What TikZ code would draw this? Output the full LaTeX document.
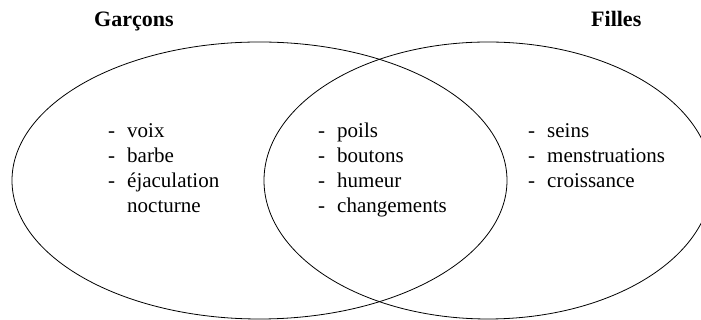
\documentclass[tikz,border=0pt]{standalone}
\usepackage{fontspec}
\setmainfont{Liberation Serif}
\usetikzlibrary{positioning, shapes.geometric}
\tikzset{
  ensemble/.style={draw, ellipse, inner sep=0pt, line width=0.8pt},
  titre/.style={inner sep=0pt, anchor=base west, font=\fontsize{22}{26}\selectfont\bfseries},
  liste/.style={inner sep=0pt, anchor=base west, font=\fontsize{21}{25}\selectfont}
}
\newcommand{\listepuces}[1]{\begin{tabular}[t]{@{}p{19pt}@{}l@{}}#1\end{tabular}}

\begin{document}
\begin{tikzpicture}[x=1pt, y=1pt]
    \useasboundingbox (0,0) rectangle (701,320);

    % les deux ensembles
    \node[ensemble, minimum width=495pt, minimum height=277pt] (garcons) at (259.5,139.5) {};
    \node[ensemble, minimum width=448pt, minimum height=277pt] (filles) at (488,139.5) {};

    \node[titre] (tgarcons) at (94,293) {Garçons};
    \node[titre] (tfilles) at (591,293) {Filles};

    \node[liste] (lgarcons) at (108,182) {\listepuces{- & voix\\ - & barbe\\ - & éjaculation\\ & nocturne}};
    \node[liste] (lcommun) at (318,182) {\listepuces{- & poils\\ - & boutons\\ - & humeur\\ - & changements}};
    \node[liste] (lfilles) at (528,182) {\listepuces{- & seins\\ - & menstruations\\ - & croissance}};
\end{tikzpicture}
\end{document}
